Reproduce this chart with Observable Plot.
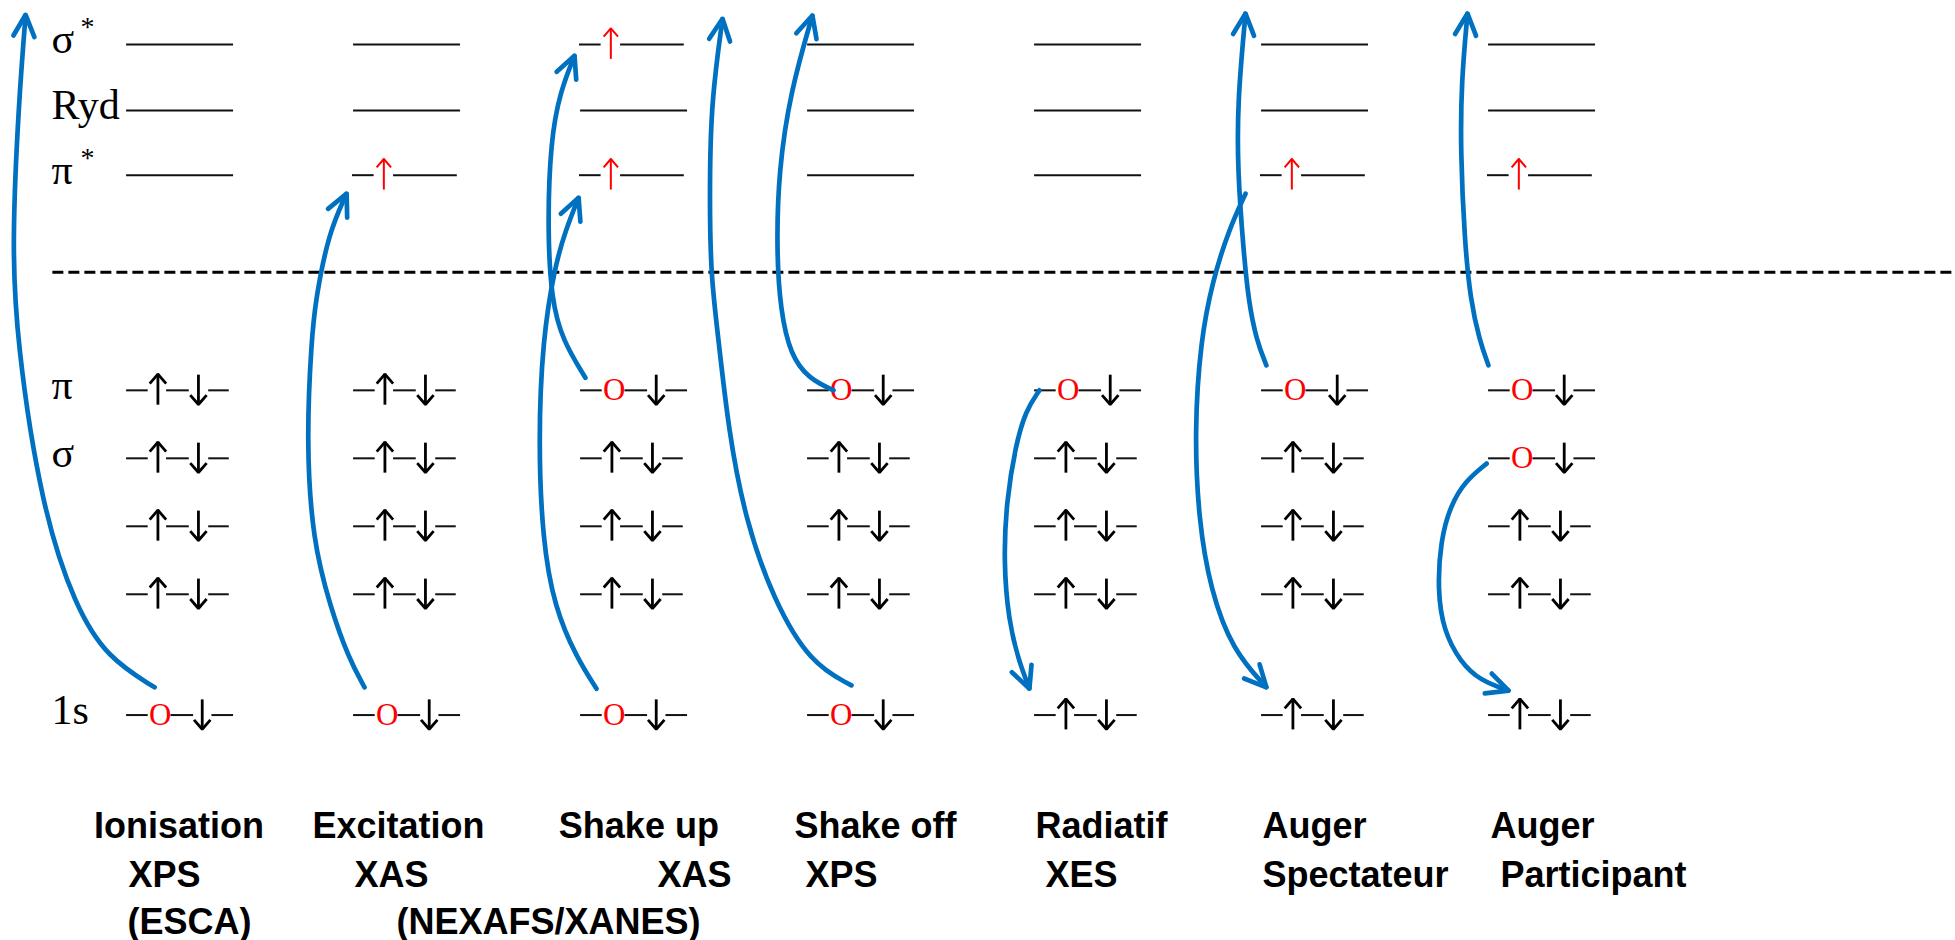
<!DOCTYPE html>
<html><head><meta charset="utf-8">
<script src="https://cdn.jsdelivr.net/npm/d3@7"></script>
<script src="https://cdn.jsdelivr.net/npm/@observablehq/plot@0.6"></script>
<style>html,body{margin:0;padding:0;background:#fff;overflow:hidden}</style>
</head><body><div id="chart"></div>
<script>
// ---- Energy levels (top to bottom) ----
const levelKeys   = ["sigmaStar", "ryd", "piStar", "pi", "sigma", "inner1", "inner2", "core1s"];
const levelLabels = ["σ", "Ryd", "π", "π", "σ", "", "", "1s"];
const levelStars  = [true, false, true, false, false, false, false, false];
const levelY      = [0, 1, 1.98, 5.24, 6.27, 7.30, 8.33, 10.16];
const vacuumY     = 3.45;

// ---- Processes (columns) and occupations per level: e empty, u excited electron, f pair, h hole ----
const processes = ["Ionisation", "Excitation", "Shake up", "Shake off", "Radiatif", "Auger Spectateur", "Auger Participant"];
const occIonisation  = ["e", "e", "e", "f", "f", "f", "f", "h"];
const occExcitation  = ["e", "e", "u", "f", "f", "f", "f", "h"];
const occShakeUp     = ["u", "e", "u", "h", "f", "f", "f", "h"];
const occShakeOff    = ["e", "e", "e", "h", "f", "f", "f", "h"];
const occRadiatif    = ["e", "e", "e", "h", "f", "f", "f", "f"];
const occAugerSpec   = ["e", "e", "u", "h", "f", "f", "f", "f"];
const occAugerPart   = ["e", "e", "u", "h", "h", "f", "f", "f"];
const occupations = [occIonisation, occExcitation, occShakeUp, occShakeOff, occRadiatif, occAugerSpec, occAugerPart];

// ---- Bottom labels ----
const labelRow1  = ["Ionisation", "Excitation", "Shake up", "Shake off", "Radiatif", "Auger", "Auger"];
const labelRow1X = [-0.139, 0.824, 1.909, 2.947, 4.009, 5.009, 6.013];
const labelRow2  = ["XPS", "XAS", "XAS", "XPS", "XES", "Spectateur", "Participant"];
const labelRow2X = [0.013, 1.009, 2.344, 2.996, 4.053, 5.009, 6.057];
const labelRow3  = ["(ESCA)", "(NEXAFS/XANES)"];
const labelRow3X = [0.009, 1.194];
const labelRowY  = [12.02, 12.77, 13.47];

// ---- Electron transitions (column units, level units) ----
const tIonisation    = [[0.128,9.74],[-0.08,9.29],[-0.22,8.53],[-0.37,7.02],[-0.48,4.48],[-0.50,3.0],[-0.47,0.85],[-0.44,-0.45]];
const tExcitation    = [[1.053,9.74],[0.982,9.29],[0.903,8.53],[0.824,7.52],[0.797,6.0],[0.819,4.48],[0.837,3.88],[0.894,2.86],[0.974,2.26]];
const tShakeUpCore   = [[2.075,9.76],[1.987,9.29],[1.890,8.53],[1.837,7.52],[1.819,6.0],[1.837,4.48],[1.890,3.38],[1.938,2.82],[1.996,2.32]];
const tShakeUpPi     = [[2.026,5.05],[1.925,4.48],[1.877,3.88],[1.859,2.82],[1.872,1.45],[1.916,0.70],[1.978,0.17]];
const tShakeOffCore  = [[3.198,9.71],[3.018,9.38],[2.855,8.42],[2.731,7.21],[2.656,5.85],[2.608,4.33],[2.577,3.47],[2.573,2.06],[2.581,0.85],[2.630,-0.39]];
const tShakeOffPi    = [[3.119,5.24],[3.009,5.06],[2.930,4.71],[2.885,4.03],[2.868,3.12],[2.877,1.91],[2.930,0.70],[3.026,-0.44]];
const tRadiatif      = [[4.026,5.24],[3.965,5.55],[3.921,6.08],[3.881,6.91],[3.868,7.82],[3.890,8.73],[3.934,9.33],[3.982,9.76]];
const tAugerSpecUp   = [[5.026,4.86],[4.982,4.48],[4.947,3.88],[4.925,3.12],[4.899,1.91],[4.899,0.85],[4.934,-0.47]];
const tAugerSpecDown = [[4.934,2.26],[4.859,2.82],[4.789,3.58],[4.736,4.48],[4.709,5.85],[4.727,7.21],[4.780,8.27],[4.877,9.18],[5.026,9.74]];
const tAugerPartUp   = [[6.004,4.86],[5.965,4.48],[5.925,3.88],[5.899,2.97],[5.881,1.61],[5.885,0.55],[5.912,-0.47]];
const tAugerPartDown = [[5.996,6.35],[5.903,6.61],[5.837,6.98],[5.793,7.52],[5.780,8.27],[5.806,8.88],[5.881,9.36],[5.969,9.64],[6.093,9.79]];
const transitions = [tIonisation, tExcitation, tShakeUpCore, tShakeUpPi, tShakeOffCore, tShakeOffPi, tRadiatif, tAugerSpecUp, tAugerSpecDown, tAugerPartUp, tAugerPartDown];

// ---- Layout / style ----
const W = 1955, H = 940;
const X_DOMAIN = [-0.5507, 8.0617], Y_DOMAIN = [-0.6667, 13.5758];
const KX = W / (X_DOMAIN[1] - X_DOMAIN[0]), KY = H / (Y_DOMAIN[1] - Y_DOMAIN[0]);
const LW = 0.476; // level width (column units)
const segPatterns = {
  e: [[0.01, 1]],
  f: [[0.01, 0.21], [0.38, 0.59], [0.77, 0.96]],
  h: [[0.01, 0.21], [0.42, 0.63], [0.80, 1.0]],
  u: [[0.0, 0.20], [0.38, 0.97]]
};
const BLUE = "#0070c0";

// arrowhead wings (pixel length & half-angle) converted back to data units
function wings(id, x1, y1, x2, y2, len, deg) {
  const dx = (x2 - x1) * KX, dy = (y2 - y1) * KY, L = Math.hypot(dx, dy);
  const ux = -dx / L, uy = -dy / L, a = deg * Math.PI / 180;
  const leg = s => {
    const c = Math.cos(a), sn = Math.sin(a) * s;
    return {id, x: x2 + (ux * c - uy * sn) * len / KX, y: y2 + (ux * sn + uy * c) * len / KY};
  };
  return [leg(1), {id, x: x2, y: y2}, leg(-1)];
}

const segRows = [], spinShafts = [], spinHeads = [], redShafts = [], redHeads = [], holeRows = [];
let sid = 0;
const UP_TOP = -0.245, UP_BOT = 0.225, DN_TOP = -0.23, DN_BOT = 0.215;
occupations.forEach((col, c) => col.forEach((s, l) => {
  const y = levelY[l];
  segPatterns[s].forEach(([a, b]) => segRows.push({x1: c + a * LW, x2: c + b * LW, y}));
  const addSpin = (x, y1, y2, shafts, heads, len) => {
    shafts.push({x, y1, y2});
    heads.push(...wings(sid++, x, y1, x, y2, len, 41));
  };
  if (s === "f") {
    addSpin(c + 0.30 * LW, y + UP_BOT, y + UP_TOP, spinShafts, spinHeads, 12.5);
    addSpin(c + 0.675 * LW, y + DN_TOP, y + DN_BOT, spinShafts, spinHeads, 12.5);
  } else if (s === "h") {
    holeRows.push({x: c + 0.32 * LW, y});
    addSpin(c + 0.71 * LW, y + DN_TOP, y + DN_BOT, spinShafts, spinHeads, 12.5);
  } else if (s === "u") {
    addSpin(c + 0.29 * LW, y + UP_BOT, y + UP_TOP, redShafts, redHeads, 11);
  }
}));

const curveRows = [], headRows = [];
transitions.forEach((pts, id) => {
  pts.forEach(([x, y]) => curveRows.push({id, x, y}));
  const [x1, y1] = pts[pts.length - 2], [x2, y2] = pts[pts.length - 1];
  headRows.push(...wings(id, x1, y1, x2, y2, 24, 26));
});

const levelIdx = levelKeys.map((_, i) => i);
const labelRows = [
  ...labelRow1.map((t, i) => ({t, x: labelRow1X[i], y: labelRowY[0]})),
  ...labelRow2.map((t, i) => ({t, x: labelRow2X[i], y: labelRowY[1]})),
  ...labelRow3.map((t, i) => ({t, x: labelRow3X[i], y: labelRowY[2]}))
];

const chart = Plot.plot({
  width: W, height: H, margin: 0,
  x: {domain: X_DOMAIN, range: [0, W], axis: null},
  y: {domain: Y_DOMAIN, range: [0, H], axis: null},
  style: {background: "#fff", overflow: "visible"},
  marks: [
    Plot.ruleY([vacuumY], {x1: -0.32, x2: X_DOMAIN[1], stroke: "black", strokeWidth: 3, strokeDasharray: "11,5"}),
    Plot.ruleY(segRows, {y: "y", x1: "x1", x2: "x2", stroke: "#111", strokeWidth: 2}),
    Plot.ruleX(spinShafts, {x: "x", y1: "y1", y2: "y2", stroke: "black", strokeWidth: 2.8}),
    Plot.line(spinHeads, {x: "x", y: "y", z: "id", stroke: "black", strokeWidth: 2.8, strokeLinejoin: "miter", strokeLinecap: "butt"}),
    Plot.ruleX(redShafts, {x: "x", y1: "y1", y2: "y2", stroke: "#ff0000", strokeWidth: 2}),
    Plot.line(redHeads, {x: "x", y: "y", z: "id", stroke: "#ff0000", strokeWidth: 2, strokeLinejoin: "miter", strokeLinecap: "butt"}),
    Plot.text(holeRows, {x: "x", y: "y", text: () => "O", fill: "#ff0000", fontSize: 31, fontFamily: "Liberation Serif", dy: 0}),
    Plot.text(levelIdx, {x: () => -0.326, y: i => levelY[i], text: i => levelLabels[i], textAnchor: "start", fontSize: 42, fontFamily: "Liberation Serif", fill: "black", dy: -5}),
    Plot.text(levelIdx.filter(i => levelStars[i]), {x: () => -0.167, y: i => levelY[i], text: () => "*", textAnchor: "middle", fontSize: 28, fontFamily: "Liberation Serif", fill: "black", dy: -17}),
    Plot.line(curveRows, {x: "x", y: "y", z: "id", curve: "basis", stroke: BLUE, strokeWidth: 4.7, strokeLinecap: "round"}),
    Plot.line(headRows, {x: "x", y: "y", z: "id", stroke: BLUE, strokeWidth: 4.7, strokeLinecap: "round", strokeLinejoin: "miter"}),
    Plot.text(labelRows, {x: "x", y: "y", text: "t", textAnchor: "start", lineAnchor: "bottom", fontSize: 36, fontWeight: "bold", fontFamily: "Liberation Sans", fill: "black"})
  ]
});
document.getElementById("chart").appendChild(chart);
</script>
</body></html>
